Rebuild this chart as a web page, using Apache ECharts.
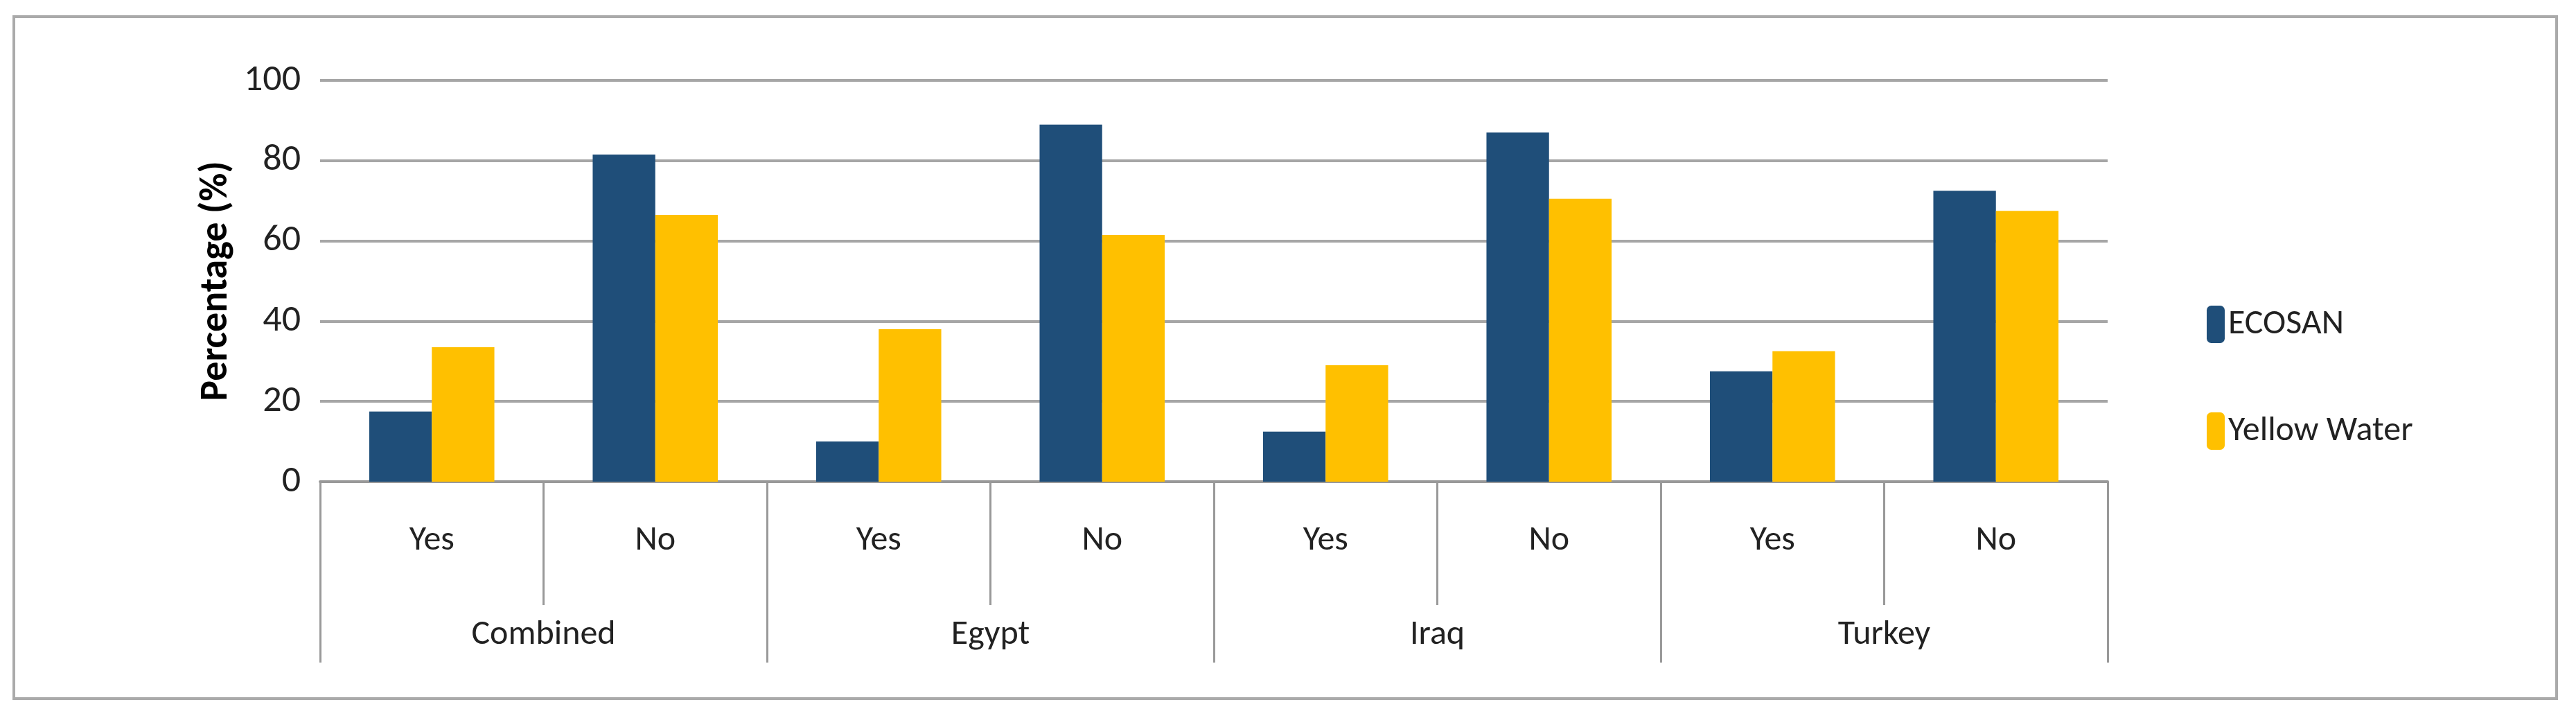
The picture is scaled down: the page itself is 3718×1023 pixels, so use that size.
<!DOCTYPE html>
<html><head><meta charset="utf-8">
<script src="https://cdn.jsdelivr.net/npm/echarts@6/dist/echarts.min.js"></script>
<style>html,body{margin:0;padding:0;background:#fff}#c{width:3718px;height:1023px}</style>
</head><body><div id="c"></div>
<script>
const subCats = ['Yes','No','Yes','No','Yes','No','Yes','No'];
const groups = ['Combined','Egypt','Iraq','Turkey'];
const ecosan = [17.5, 81.5, 10, 89, 12.5, 87, 27.5, 72.5];
const yellowWater = [33.5, 66.5, 38, 61.5, 29, 70.5, 32.5, 67.5];
const yTicks = [0,20,40,60,80,100];
const font = 'Calibri, Carlito, "Liberation Sans", sans-serif';
const chart = echarts.init(document.getElementById('c'));
chart.setOption({
  animation:false,
  graphic:[{type:'rect',shape:{x:20,y:24,width:3670,height:984},style:{fill:'none',stroke:'#aaaaaa',lineWidth:4}}],
  grid:{left:462,right:676,top:116,bottom:328},
  legend:{orient:'vertical',left:3180,top:436,itemWidth:26,itemHeight:54,itemGap:100,
    textStyle:{fontSize:50,fontFamily:font,color:'#222'},data:['ECOSAN','Yellow Water']},
  xAxis:[
    {type:'category',data:subCats,position:'bottom',
     axisLine:{lineStyle:{color:'#999',width:4}},
     axisTick:{show:true,length:178,lineStyle:{color:'#999',width:3}},
     axisLabel:{fontSize:50,fontFamily:font,color:'#222',margin:60}},
    {type:'category',data:groups,position:'bottom',offset:0,
     axisLine:{show:false},
     axisTick:{show:true,length:261,lineStyle:{color:'#999',width:3}},
     axisLabel:{fontSize:50,fontFamily:font,color:'#222',margin:196}}
  ],
  yAxis:{type:'value',min:0,max:100,interval:20,
    name:'Percentage (%)',nameLocation:'middle',nameGap:120,
    nameTextStyle:{fontSize:56,fontWeight:'bold',fontFamily:font,color:'#000'},
    axisLabel:{fontSize:54,fontFamily:font,color:'#222',margin:28,formatter:v=>yTicks.includes(v)?String(v):''},
    axisLine:{show:false},axisTick:{show:false},
    splitLine:{lineStyle:{color:'#a6a6a6',width:4}}},
  series:[
    {name:'ECOSAN',type:'bar',data:ecosan,barGap:'0%',barCategoryGap:'44%',itemStyle:{color:'#1f4e79'}},
    {name:'Yellow Water',type:'bar',data:yellowWater,itemStyle:{color:'#ffc000'}}
  ]
});
</script></body></html>
